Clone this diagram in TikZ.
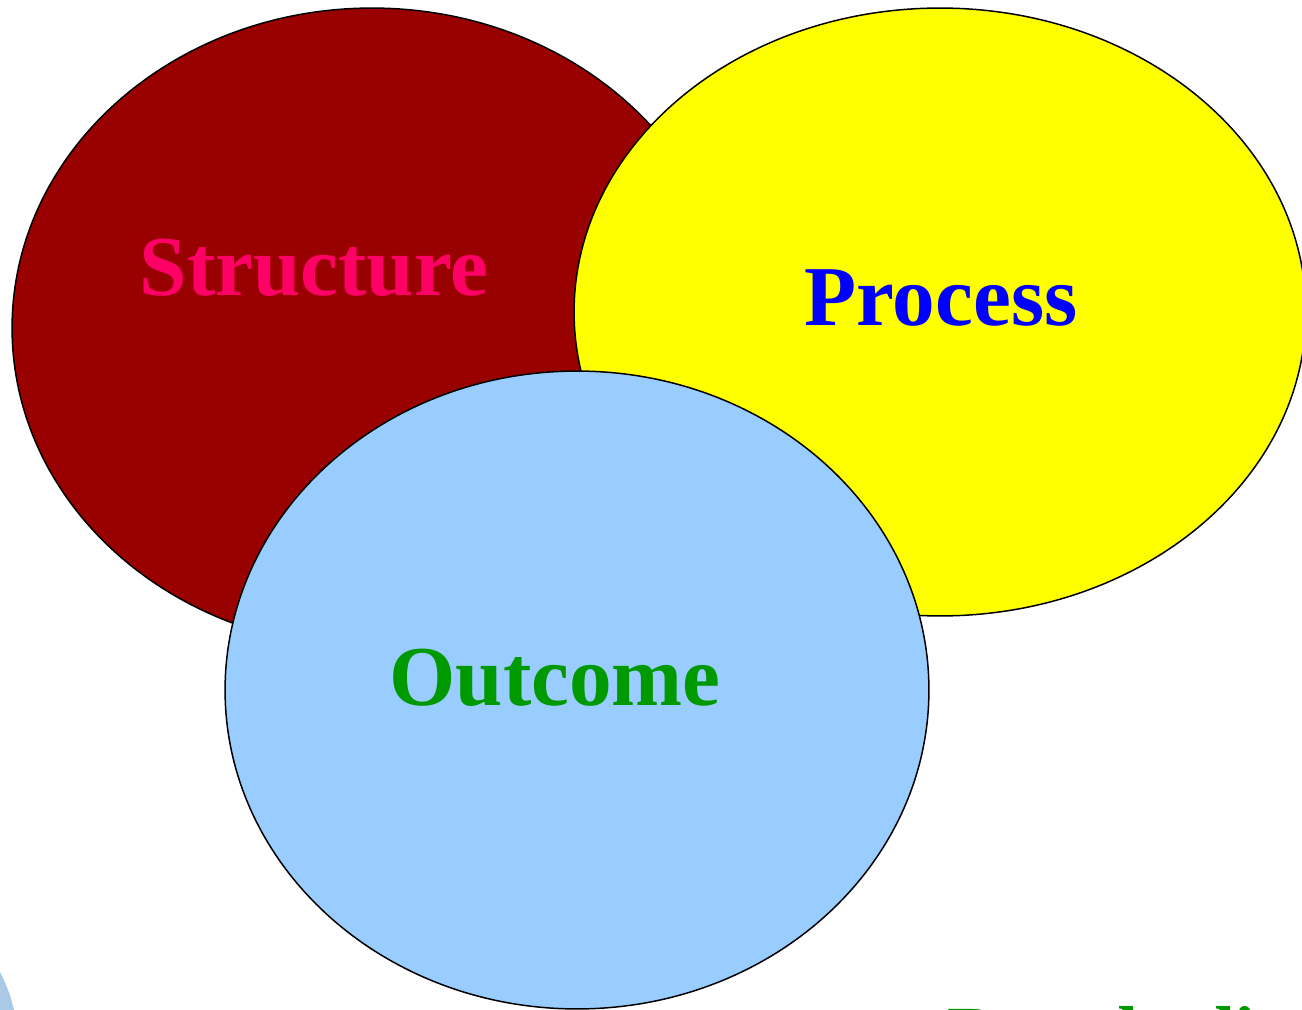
\documentclass[tikz,border=0pt]{standalone}
\usepackage{fontspec}
\setmainfont{Liberation Serif}
\usepackage{xcolor}
\usetikzlibrary{positioning,shapes.geometric}

\definecolor{structfill}{HTML}{990000}
\definecolor{structtext}{HTML}{FF0066}
\definecolor{procfill}{HTML}{FFFF00}
\definecolor{proctext}{HTML}{0000FF}
\definecolor{outfill}{HTML}{99CCFF}
\definecolor{outtext}{HTML}{009900}
\definecolor{logoblue}{HTML}{A9C9E6}

\begin{document}
\begin{tikzpicture}[%
    x=0.02cm,
    y=-0.02cm,
    circ/.style={%
      ellipse,
      draw,
      line width=0.85pt,
      inner sep=0pt
    },
    word/.style={%
      font=\bfseries\fontsize{48.5}{50}\selectfont,
      inner sep=0pt
    }
  ]
    \useasboundingbox (0,0) rectangle (1302,1010);
    \begin{scope}
    \clip (0,0) rectangle (1302,1010);

    \node[circ, fill=structfill, minimum width=14.4cm, minimum height=12.8cm] (structure) at (372,328) {};
    \node[circ, fill=procfill, minimum width=14.64cm, minimum height=12.16cm] (process) at (940,312) {};
    \node[circ, fill=outfill, minimum width=14.08cm, minimum height=12.76cm] (outcome) at (577,690) {};

    \node[word, text=structtext] (structlabel) at (314,268) {Structure};
    \node[word, text=proctext] (proclabel) at (941,298) {Process};
    \node[word, text=outtext] (outlabel) at (555,678) {Outcome};

    \node[font=\bfseries\fontsize{42.7}{44}\selectfont, text=outtext, anchor=base west, inner sep=0pt] (author) at (947,1058) {Donabedian};

    % fragment of a logo in the corner
    \fill[logoblue] (0,972) -- (4,980) -- (10,995) -- (14,1010) -- (0,1010) -- cycle;
    \end{scope}
  \end{tikzpicture}
\end{document}
